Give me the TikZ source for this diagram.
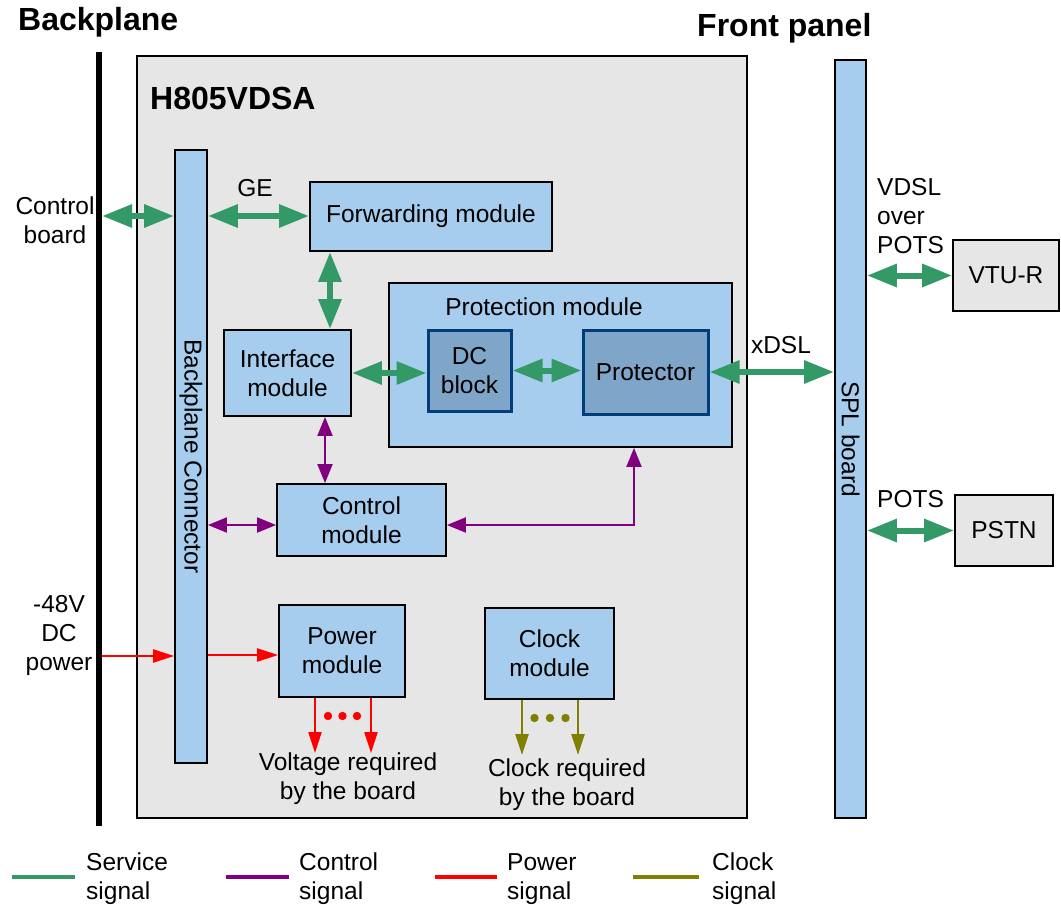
\documentclass[tikz,border=0pt]{standalone}
\usepackage{fontspec}
\setmainfont{Liberation Sans}
\usetikzlibrary{arrows.meta}
\definecolor{lb}{RGB}{166,205,237}
\definecolor{db}{RGB}{127,166,201}
\definecolor{dbb}{RGB}{0,61,122}
\definecolor{bg}{RGB}{230,230,230}
\definecolor{sg}{RGB}{51,153,102}
\definecolor{cg}{RGB}{128,0,128}
\definecolor{pg}{RGB}{255,0,0}
\definecolor{kg}{RGB}{128,128,0}
\tikzset{
  lbl/.style={font=\fontsize{24.5}{29}\selectfont, inner sep=0pt, align=center},
  ttl/.style={font=\fontsize{32}{36}\selectfont\bfseries, inner sep=0pt, anchor=west},
  box/.style={draw=black, line width=1.8pt, fill=lb, align=center, inner sep=2pt, font=\fontsize{24.5}{29}\selectfont},
  dbox/.style={draw=dbb, line width=3pt, fill=db, align=center, inner sep=2pt, font=\fontsize{24.5}{29}\selectfont},
  gbox/.style={draw=black, line width=1.8pt, fill=bg, align=center, inner sep=2pt, font=\fontsize{24.5}{29}\selectfont},
  svc/.style={draw=sg, line width=6pt, {Triangle[length=30pt,width=22pt]}-{Triangle[length=30pt,width=22pt]}},
  ctl/.style={draw=cg, line width=2pt, {Triangle[length=19pt,width=15pt]}-{Triangle[length=19pt,width=15pt]}},
  pwr/.style={draw=pg, line width=2.2pt, -{Triangle[length=21pt,width=13pt]}},
  clk/.style={draw=kg, line width=2.5pt, -{Triangle[length=21pt,width=13pt]}},
}
\begin{document}
\begin{tikzpicture}[x=1pt,y=-1pt]
\useasboundingbox (0,0) rectangle (1061,905);
\fill[white] (0,0) rectangle (1061,905);

% backplane line and main board
\draw[line width=6pt] (99,52) -- (99,826);
\draw[line width=1.8pt, fill=bg] (137,56) rectangle (747,818);

% titles
\node[ttl] (tbp) at (18,22) {Backplane};
\node[ttl] (tfp) at (697,28) {Front panel};
\node[ttl] (tbd) at (150,98) {H805VDSA};

% boxes
\node[box, minimum width=32pt, minimum height=613pt] (conn) at (191,456.5) {};
\node[lbl, rotate=-90] (connt) at (conn.center) {Backplane Connector};
\node[box, minimum width=242pt, minimum height=69pt] (fwd) at (431,216.5) {Forwarding module};
\node[box, minimum width=127pt, minimum height=86pt] (intf) at (287.5,373) {Interface\\module};
\node[box, minimum width=343pt, minimum height=164pt] (prot) at (560.5,365) {};
\node[lbl] (prott) at (544,307) {Protection module};
\node[dbox, minimum width=83pt, minimum height=81pt] (dc) at (469.5,370.5) {DC\\block};
\node[dbox, minimum width=125pt, minimum height=84pt] (ptr) at (645.5,372) {Protector};
\node[box, minimum width=31pt, minimum height=758pt] (spl) at (850.5,439) {};
\node[lbl, rotate=-90] (splt) at (spl.center) {SPL board};
\node[gbox, minimum width=106pt, minimum height=71pt] (vtur) at (1006,275.5) {VTU-R};
\node[gbox, minimum width=98pt, minimum height=71pt] (pstn) at (1004,530.5) {PSTN};
\node[box, minimum width=169pt, minimum height=72pt] (ctrl) at (361.5,520) {Control\\module};
\node[box, minimum width=126pt, minimum height=92pt] (pwrm) at (342,651) {Power\\module};
\node[box, minimum width=129pt, minimum height=91pt] (clkm) at (549.5,653.5) {Clock\\module};

% labels
\node[lbl] (lcb) at (55,220) {Control\\board};
\node[lbl] (lge) at (255,188) {GE};
\node[lbl] (lxd) at (781,345) {xDSL};
\node[lbl, anchor=west, align=left] (lvd) at (877,216) {VDSL\\over\\POTS};
\node[lbl, anchor=west] (lpo) at (877,499) {POTS};
\node[lbl] (l48) at (59,635) {-48V\\DC\\power};
\node[lbl] (lvr) at (348,778.5) {Voltage required\\by the board};
\node[lbl] (lcr) at (567,785) {Clock required\\by the board};

% coordinates
\coordinate (bpa) at (102,216);
\coordinate (bpb) at (102,656);
\coordinate (xa) at (330,0);
\coordinate (xb) at (325,0);
\coordinate (yc) at (0,525);
\coordinate (cc) at (634,525);
\coordinate (yp) at (0,655);
\coordinate (p1) at (315,0);
\coordinate (p2) at (371,0);
\coordinate (pe) at (0,753);
\coordinate (k1) at (522,0);
\coordinate (k2) at (578,0);
\coordinate (ke) at (0,755);

% service signals
\draw[svc] (bpa) -- (conn.west |- bpa);
\draw[svc] (conn.east |- bpa) -- (fwd.west |- bpa);
\draw[svc] (xa |- fwd.south) -- (xa |- intf.north);
\draw[svc] (intf.east) -- (intf.east -| dc.west);
\draw[svc] (dc.east) -- (dc.east -| ptr.west);
\draw[svc] (ptr.east) -- (ptr.east -| spl.west);
\draw[svc] (vtur.west -| spl.east) -- (vtur.west);
\draw[svc] (pstn.west -| spl.east) -- (pstn.west);

% control signals
\draw[ctl] (xb |- intf.south) -- (xb |- ctrl.north);
\draw[ctl] (conn.east |- yc) -- (ctrl.west |- yc);
\draw[ctl] (ctrl.east |- yc) -- (cc) -- (cc |- prot.south);

% power signals
\draw[pwr] (bpb) -- (conn.west |- bpb);
\draw[pwr] (conn.east |- yp) -- (pwrm.west |- yp);
\draw[pwr] (p1 |- pwrm.south) -- (p1 |- pe);
\draw[pwr] (p2 |- pwrm.south) -- (p2 |- pe);
\fill[pg] (328,716) circle (4.2) (342.5,716) circle (4.2) (357,716) circle (4.2);

% clock signals
\draw[clk] (k1 |- clkm.south) -- (k1 |- ke);
\draw[clk] (k2 |- clkm.south) -- (k2 |- ke);
\fill[kg] (534.5,718) circle (4.2) (550,718) circle (4.2) (565.5,718) circle (4.2);

% legend
\draw[sg, line width=4pt] (12,877) -- (75,877);
\draw[cg, line width=4pt] (226,877) -- (289,877);
\draw[pg, line width=4pt] (435,877) -- (497,877);
\draw[kg, line width=4pt] (633,877) -- (699,877);
\node[lbl, anchor=west, align=left] (lg1) at (86,879) {Service\\signal};
\node[lbl, anchor=west, align=left] (lg2) at (299,879) {Control\\signal};
\node[lbl, anchor=west, align=left] (lg3) at (507,879) {Power\\signal};
\node[lbl, anchor=west, align=left] (lg4) at (712,879) {Clock\\signal};
\end{tikzpicture}
\end{document}
